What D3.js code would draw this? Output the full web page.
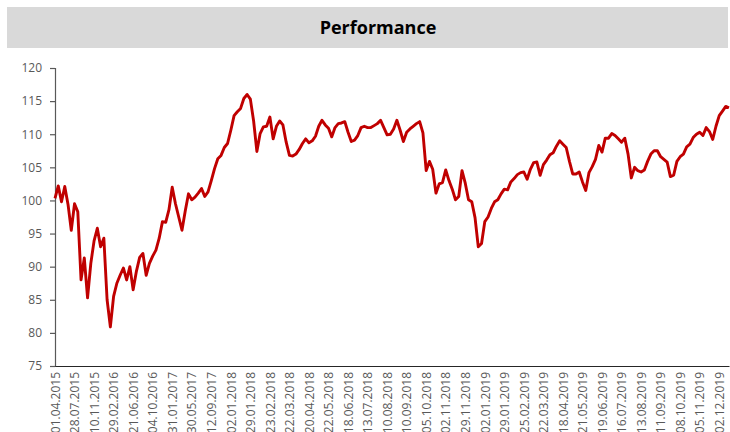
<!DOCTYPE html>
<html>
  <head>
    <title>Performance</title>
    <script src="https://cdn.jsdelivr.net/npm/d3@7"></script>
    <style>

body {
  margin: 0;
  background: #fff;
  font-family: "Open Sans", sans-serif;
}

.title {
  font-size: 18px;
  font-weight: 700;
  fill: #000;
}

.axis text {
  font-family: "Open Sans", sans-serif;
  font-size: 12px;
  fill: #595959;
}

.line {
  fill: none;
  stroke: #c00000;
  stroke-width: 2.9px;
  stroke-linejoin: round;
}

    </style>
  </head>
  <body>
    <script>

// one value per sampled point, six points between two date labels
var values = [
  100.3, 102.2, 99.8, 102.1, 99.4, 95.5, 99.5, 98.3, 88.0, 91.3,
  85.3, 90.5, 93.9, 95.8, 93.0, 94.3, 85.0, 80.9, 85.5, 87.5,
  88.7, 89.8, 88.0, 90.0, 86.5, 89.3, 91.4, 92.0, 88.7, 90.5,
  91.6, 92.5, 94.3, 96.8, 96.7, 98.6, 102.0, 99.5, 97.5, 95.5,
  98.4, 101.0, 100.1, 100.5, 101.1, 101.8, 100.6, 101.3, 103.0, 104.8,
  106.3, 106.8, 108.0, 108.6, 110.6, 112.8, 113.4, 113.9, 115.4, 116.0,
  115.3, 112.0, 107.4, 110.1, 111.1, 111.2, 112.6, 109.3, 111.2, 112.0,
  111.4, 108.8, 106.8, 106.7, 107.0, 107.7, 108.6, 109.3, 108.7, 109.0,
  109.7, 111.2, 112.1, 111.4, 110.9, 109.6, 111.0, 111.6, 111.7, 111.9,
  110.3, 108.9, 109.1, 109.8, 111.0, 111.2, 111.0, 111.0, 111.3, 111.6,
  112.1, 111.0, 109.9, 110.0, 110.8, 112.1, 110.6, 108.9, 110.3, 110.8,
  111.2, 111.6, 111.9, 110.2, 104.5, 105.9, 104.7, 101.1, 102.5, 102.7,
  104.6, 103.0, 101.7, 100.1, 100.6, 104.5, 102.6, 100.1, 99.8, 97.4,
  93.0, 93.5, 96.8, 97.5, 98.8, 99.8, 100.1, 101.0, 101.7, 101.6,
  102.8, 103.3, 103.9, 104.2, 104.3, 103.2, 104.7, 105.7, 105.8, 103.8,
  105.4, 106.1, 106.9, 107.2, 108.2, 109.0, 108.5, 108.0, 105.9, 104.0,
  104.0, 104.3, 102.8, 101.5, 104.2, 105.1, 106.2, 108.3, 107.3, 109.4,
  109.4, 110.1, 109.8, 109.3, 108.8, 109.4, 107.0, 103.4, 105.0, 104.5,
  104.3, 104.6, 105.9, 107.0, 107.5, 107.5, 106.6, 106.2, 105.8, 103.6,
  103.8, 105.9, 106.6, 107.0, 108.1, 108.5, 109.5, 110.0, 110.3, 109.8,
  111.0, 110.4, 109.2, 111.2, 112.8, 113.5, 114.2, 114.0
];

var dateLabels = [
  "01.04.2015", "28.07.2015", "10.11.2015", "29.02.2016", "21.06.2016",
  "04.10.2016", "31.01.2017", "30.05.2017", "12.09.2017", "02.01.2018",
  "29.01.2018", "23.02.2018", "22.03.2018", "20.04.2018", "22.05.2018",
  "18.06.2018", "13.07.2018", "10.08.2018", "10.09.2018", "05.10.2018",
  "02.11.2018", "29.11.2018", "02.01.2019", "29.01.2019", "25.02.2019",
  "22.03.2019", "18.04.2019", "21.05.2019", "19.06.2019", "16.07.2019",
  "13.08.2019", "11.09.2019", "08.10.2019", "05.11.2019", "02.12.2019"
];

var yTicks = [75, 80, 85, 90, 95, 100, 105, 110, 115, 120];

var labelStep = 6;

var w = 730,
    h = 432,
    m = {left: 55, right: 729, top: 68, bottom: 366};

var svg = d3.select("body")
  .append("svg")
    .attr("width", w)
    .attr("height", h);

// title band
svg.append("rect")
    .attr("x", 7)
    .attr("y", 7)
    .attr("width", 721)
    .attr("height", 41)
    .attr("fill", "#d9d9d9");

svg.append("text")
    .attr("class", "title")
    .attr("x", 378)
    .attr("y", 34)
    .attr("text-anchor", "middle")
    .text("Performance");

var x = d3.scaleLinear()
    .domain([0, values.length - 1])
    .range([m.left, m.right]);

var y = d3.scaleLinear()
    .domain([75, 120])
    .range([m.bottom, m.top]);

var yAxis = svg.append("g")
    .attr("class", "axis")
    .attr("transform", "translate(" + m.left + ",0)")
    .call(d3.axisLeft(y).tickValues(yTicks).tickSize(5).tickPadding(8));

yAxis.select(".domain").attr("stroke", "#595959").attr("stroke-width", 1.2);
yAxis.selectAll(".tick line").attr("stroke", "#595959").attr("stroke-width", 1.2);

var xAxis = svg.append("g")
    .attr("class", "axis")
    .attr("transform", "translate(0," + m.bottom + ")")
    .call(d3.axisBottom(x)
      .tickValues(dateLabels.map(function(d, i) { return i * labelStep; }))
      .tickFormat(function(d) { return dateLabels[d / labelStep]; })
      .tickSize(0)
      .tickSizeOuter(0));

xAxis.select(".domain").attr("stroke", "#262626").attr("stroke-width", 1.2);

xAxis.selectAll(".tick text")
    .attr("transform", "rotate(-90)")
    .attr("text-anchor", "end")
    .attr("x", -6)
    .attr("y", 0)
    .attr("dy", ".35em");

var line = d3.line()
    .x(function(d, i) { return x(i); })
    .y(function(d) { return y(d); });

svg.append("path")
    .datum(values)
    .attr("class", "line")
    .attr("d", line);

    </script>
  </body>
</html>
